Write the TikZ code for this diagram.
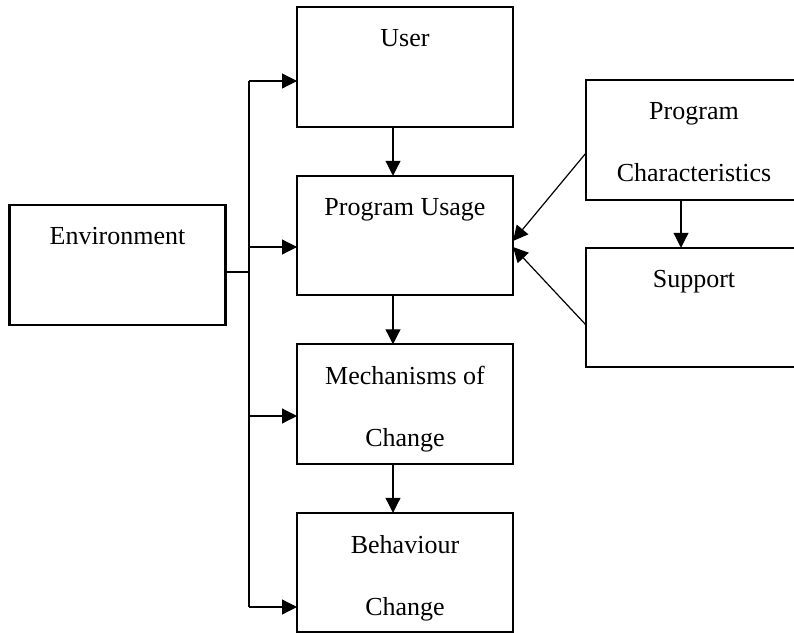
\documentclass[tikz,border=0pt]{standalone}
\usepackage{fontspec}
\setmainfont{Liberation Serif}
\usetikzlibrary{arrows.meta, positioning}

\begin{document}
\begin{tikzpicture}[
            x = 0.5pt, y = -0.5pt, % pixel grid, y going down
            > = {Triangle[length=7.5pt, width=7.5pt]}, % arrow head style
            node distance = 24.5pt, % gap between stacked boxes
            line width = 0.6pt % connector style
        ]

        \tikzstyle{box}=[
            draw = black,
            line width = 1.1pt,
            rectangle,
            minimum width = 108pt,
            minimum height = 59.75pt,
            inner sep = 0pt,
            outer sep = 0pt
        ]
        \tikzstyle{box text}=[
            anchor = north,
            yshift = -7.5pt,
            align = center,
            font = \fontsize{13}{31}\selectfont
        ]

	\useasboundingbox (0,0) rectangle (794,633);
	\clip (0,0) rectangle (794,633);

	\node[box, label={[box text]north:User}] (user) at (405,67) {};
	\node[box, label={[box text]north:Program Usage}] (pu) [below=of user] {};
	\node[box, label={[box text]north:Mechanisms of\\Change}] (mech) [below=of pu] {};
	\node[box, label={[box text]north:Behaviour\\Change}] (behav) [below=of mech] {};
	\node[box, label={[box text]north:Environment}] (env) at (117.5,265) {};
	\node[box, label={[box text]north:Program\\Characteristics}] (pc) at (694,140) {};
	\node[box, label={[box text]north:Support}] (supp) [below=24pt of pc] {};

	% environment trunk
	\coordinate (trunk) at (249,272);
	\coordinate (t1) at (249,81);
	\coordinate (t2) at (249,247);
	\coordinate (t3) at (249,416);
	\coordinate (t4) at (249,607);
	\draw (env.east |- trunk) -- (trunk);
	\draw (t1) -- (t4);
	\draw[->] (t1) -- (t1 -| user.west);
	\draw[->] (t2) -- (t2 -| pu.west);
	\draw[->] (t3) -- (t3 -| mech.west);
	\draw[->] (t4) -- (t4 -| behav.west);

	\draw[->] ([xshift=-6pt]user.south) -- ([xshift=-6pt]pu.north);
	\draw[->] ([xshift=-6pt]pu.south) -- ([xshift=-6pt]mech.north);
	\draw[->] ([xshift=-6pt]mech.south) -- ([xshift=-6pt]behav.north);
	\draw[->] ([xshift=-6.5pt]pc.south) -- ([xshift=-6.5pt]supp.north);
	\draw[->] ([yshift=-6.5pt]pc.west) -- ([yshift=-2.75pt]pu.east);
	\draw[->] ([yshift=-8.75pt]supp.west) -- ([yshift=-5.75pt]pu.east);

    \end{tikzpicture}
\end{document}
